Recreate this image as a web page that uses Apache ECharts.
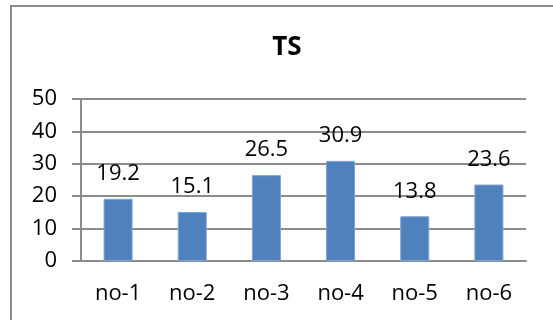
<!DOCTYPE html>
<html>
<head>
<meta charset="utf-8">
<script src="https://cdn.jsdelivr.net/npm/echarts@6/dist/echarts.min.js"></script>
<style>
  html, body { margin: 0; padding: 0; background: #fff; }
  #chart { width: 553px; height: 320px; }
</style>
</head>
<body>
<div id="chart"></div>
<script>
// Categories and TS values
const categories = ['no-1', 'no-2', 'no-3', 'no-4', 'no-5', 'no-6'];
const tsValues = [19.2, 15.1, 26.5, 30.9, 13.8, 23.6];
const yTicks = [0, 10, 20, 30, 40, 50];

const chart = echarts.init(document.getElementById('chart'), null, { renderer: 'canvas' });
const font = '"Open Sans", "Noto Sans", sans-serif';
const gridGray = '#8c8c8c';

chart.setOption({
  animation: false,
  textStyle: { fontFamily: font },
  title: {
    text: 'TS',
    left: 282,
    top: 30,
    textAlign: 'center',
    textStyle: { fontFamily: font, fontSize: 26, fontWeight: 'bold', color: '#000' }
  },
  graphic: [{
    type: 'rect',
    shape: { x: 11, y: 6, width: 600, height: 400 },
    style: { fill: 'none', stroke: '#8a8a8a', lineWidth: 2 },
    silent: true,
    z: -1
  }],
  grid: { left: 81, right: 27, top: 99, bottom: 59 },
  xAxis: {
    type: 'category',
    data: categories,
    axisLine: { lineStyle: { color: gridGray, width: 2 } },
    axisTick: { length: 7, lineStyle: { color: gridGray, width: 2 } },
    axisLabel: { fontSize: 22, color: '#000', margin: 22, fontFamily: font }
  },
  yAxis: {
    type: 'value',
    min: yTicks[0],
    max: yTicks[yTicks.length - 1],
    interval: yTicks[1] - yTicks[0],
    axisLine: { show: true, lineStyle: { color: gridGray, width: 2 } },
    axisTick: { show: true, length: 9, lineStyle: { color: gridGray, width: 2 } },
    splitLine: { lineStyle: { color: gridGray, width: 2 } },
    axisLabel: { fontSize: 22, color: '#000', margin: 24, fontFamily: font }
  },
  series: [{
    type: 'bar',
    data: tsValues,
    barWidth: 29,
    itemStyle: { color: '#4f81bd', borderColor: '#7ea3d3', borderWidth: 1 },
    label: {
      show: true,
      position: 'top',
      distance: 14,
      fontSize: 22,
      color: '#000',
      fontFamily: font
    }
  }]
});
</script>
</body>
</html>
